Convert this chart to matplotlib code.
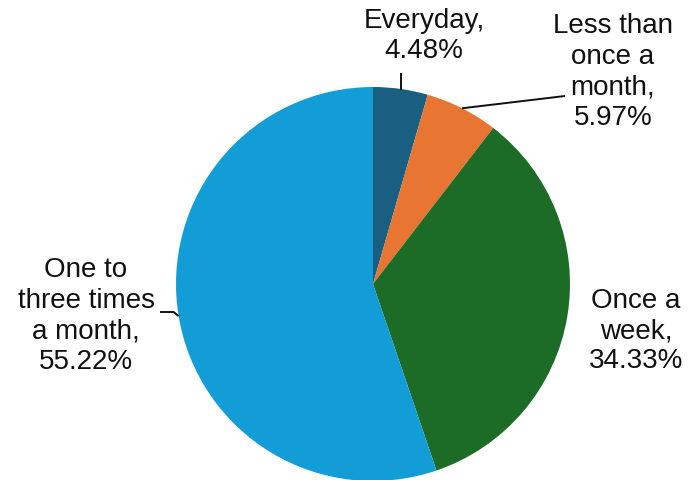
import numpy as np
import matplotlib
matplotlib.use("Agg")
import matplotlib.pyplot as plt

plt.rcParams['font.family'] = ['Liberation Sans', 'DejaVu Sans']

# frequency categories and their shares (%)
labels = ["Everyday", "Less than\nonce a\nmonth", "Once a\nweek", "One to\nthree times\na month"]
shares = [4.48, 5.97, 34.33, 55.22]
colors = ["#185f82", "#e97532", "#1c6b26", "#139dd7"]

W, H = 700, 481
fig = plt.figure(figsize=(W / 100, H / 100), dpi=100)
ax = fig.add_axes([0, 0, 1, 1])

cx, cy, r = 373, H - 285, 197
wedges, _ = ax.pie(shares, colors=colors, startangle=90, counterclock=False,
                   center=(cx, cy), radius=r, frame=True,
                   wedgeprops=dict(linewidth=0))
ax.set_xlim(0, W)
ax.set_ylim(0, H)
ax.set_aspect('equal')
ax.axis('off')

def edge_point(w):
    a = np.deg2rad((w.theta1 + w.theta2) / 2)
    return cx + r * np.cos(a), cy + r * np.sin(a)

# label text positions (pixel coords, y measured from top)
text_pos = [(424, 36), (613, 72), (636, 331), (86, 316)]
fs = 20
for w, lab, val, (tx, ty) in zip(wedges, labels, shares, text_pos):
    ax.text(tx, H - ty, f"{lab},\n{val:.2f}%", ha='center', va='center',
            fontsize=fs, linespacing=1.22, color='#111111')

lc = dict(color='#111111', linewidth=1.4, solid_capstyle='butt')
# Everyday: short vertical leader
px, py = edge_point(wedges[0])
ax.plot([px, px], [py - 1, H - 74], **lc)
# Less than once a month: slanted leader to text
px, py = edge_point(wedges[1])
ax.plot([px, 565], [py, H - 97], **lc)
# One to three times a month: small hook
px, py = edge_point(wedges[3])
ax.plot([px, px - 5, 160], [py, H - 313, H - 313], **lc)

fig.savefig("out.png", dpi=100)
